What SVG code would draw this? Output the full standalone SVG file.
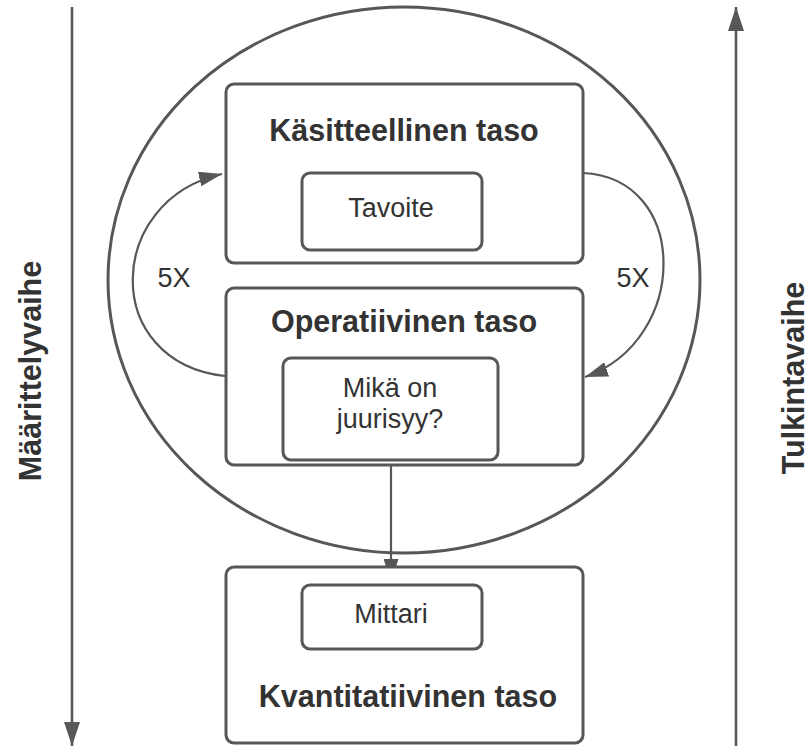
<svg xmlns="http://www.w3.org/2000/svg" width="809" height="746" viewBox="0 0 809 746">
  <style>
    .box { fill: #ffffff; stroke: #575757; stroke-width: 3; }
    .line { fill: none; stroke: #575757; stroke-width: 2.2; }
    .axis { fill: none; stroke: #575757; stroke-width: 2.6; }
    .title { font-family: "Liberation Sans", Arial, sans-serif; font-weight: bold; font-size: 30.5px; fill: #333333; text-anchor: middle; }
    .label { font-family: "Liberation Sans", Arial, sans-serif; font-size: 27px; fill: #333333; text-anchor: middle; }
  </style>
  <defs>
    <marker id="head" viewBox="0 0 24 16" refX="24" refY="8" markerWidth="24" markerHeight="16" markerUnits="userSpaceOnUse" orient="auto">
      <path d="M0,0 L24,8 L0,16 Z" fill="#575757"/>
    </marker>
    <marker id="headSmall" viewBox="0 0 23 15" refX="23" refY="7.5" markerWidth="23" markerHeight="15" markerUnits="userSpaceOnUse" orient="auto">
      <path d="M0,0 L23,7.5 L0,15 Z" fill="#575757"/>
    </marker>
  </defs>
  <rect width="809" height="746" fill="#ffffff"/>

  <!-- phase axes -->
  <g id="axis-left">
    <line class="axis" x1="72" y1="7" x2="72" y2="746" marker-end="url(#head)"/>
    <text class="title" transform="translate(41,371) rotate(-90)" x="0" y="0">Määrittelyvaihe</text>
  </g>
  <g id="axis-right">
    <line class="axis" x1="736" y1="746" x2="736" y2="7" marker-end="url(#head)"/>
    <text class="title" transform="translate(804,378) rotate(-90)" x="0" y="0">Tulkintavaihe</text>
  </g>

  <!-- enclosing cycle -->
  <g id="cycle">
    <ellipse cx="404" cy="280" rx="296" ry="273" fill="none" stroke="#575757" stroke-width="3"/>
  </g>

  <g id="connectors">
    <path class="line" d="M225,376 C100,362 105,200 222,174" marker-end="url(#headSmall)"/>
    <path class="line" d="M583,173 C690,178 690,340 585,377" marker-end="url(#headSmall)"/>
    <line class="line" x1="391" y1="466" x2="391" y2="582" marker-end="url(#headSmall)"/>
  </g>

  <g id="loop-left-label">
    <text class="label" x="174" y="287">5X</text>
  </g>
  <g id="loop-right-label">
    <text class="label" x="633" y="287">5X</text>
  </g>

  <g id="kasitteellinen">
    <rect class="box" x="226" y="84" width="357" height="179" rx="8"/>
    <text class="title" x="404" y="141">Käsitteellinen taso</text>
  </g>
  <g id="tavoite">
    <rect class="box" x="302" y="173" width="180" height="77" rx="8"/>
    <text class="label" x="391" y="217">Tavoite</text>
  </g>

  <g id="operatiivinen">
    <rect class="box" x="226" y="288" width="357" height="177" rx="8"/>
    <text class="title" x="404" y="332">Operatiivinen taso</text>
  </g>
  <g id="juurisyy">
    <rect class="box" x="283" y="358" width="215" height="102" rx="8"/>
    <text class="label" x="390" y="397">Mikä on</text>
    <text class="label" x="390" y="428">juurisyy?</text>
  </g>

  <g id="kvantitatiivinen">
    <rect class="box" x="226" y="567" width="357" height="176" rx="8"/>
    <text class="title" x="408" y="707">Kvantitatiivinen taso</text>
  </g>
  <g id="mittari">
    <rect class="box" x="302" y="585" width="180" height="64" rx="8"/>
    <text class="label" x="391" y="623">Mittari</text>
  </g>
</svg>
